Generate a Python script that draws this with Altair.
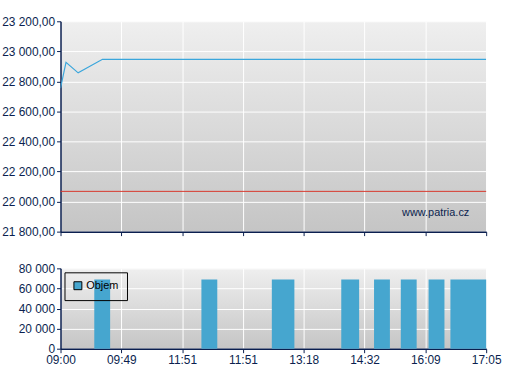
import altair as alt
import pandas as pd

# ---- data ----
tick_labels = ['09:00', '09:49', '11:51', '11:51', '13:18', '14:32', '16:09', '17:05']
tick_pos = [0, 1, 2, 3, 4, 5, 6, 7]

line_pos = [0.0, 0.09, 0.29, 0.69, 7.0]
line_val = [22755, 22927, 22857, 22947, 22947]

prev_close = [22068]

bar_start = [0.555, 2.317, 3.475, 4.617, 5.156, 5.596, 6.053, 6.412]
bar_end = [0.816, 2.578, 3.846, 4.911, 5.417, 5.857, 6.314, 7.0]
bar_vol = [69000, 69000, 69000, 69000, 69000, 69000, 69000, 69000]

price_ticks = [21800, 22000, 22200, 22400, 22600, 22800, 23000, 23200]
vol_ticks = [0, 20000, 40000, 60000, 80000]

NAVY = '#0b1f4f'
FONT = 'Liberation Sans'
W = 429

line_df = pd.DataFrame({'pos': line_pos, 'price': line_val})
rule_df = pd.DataFrame({'close': prev_close})
bar_df = pd.DataFrame({'start': bar_start, 'end': bar_end, 'vol': bar_vol,
                       'series': ['Objem'] * len(bar_vol)})

label_arr = '[' + ','.join("'%s'" % t for t in tick_labels) + ']'

xscale = alt.Scale(domain=[0, 7], nice=False, zero=False)
pscale = alt.Scale(domain=[21800, 23200], nice=False, zero=False)

def x_axis(labels):
    return alt.Axis(values=tick_pos, labels=labels, title=None, grid=True,
                    labelExpr=label_arr + '[datum.value]', labelFlush=False,
                    labelOverlap=False, labelBound=False, tickSize=4)

price_axis = alt.Axis(values=price_ticks, title=None, grid=True, tickSize=4,
                      labelExpr="replace(replace(format(datum.value, ',.2f'), ',', ' '), '.', ',')",
                      labelOverlap=False, labelFlush=False, labelBound=False,
                      minExtent=56, maxExtent=56)

line = alt.Chart(line_df).mark_line(color='#3aa6dc', strokeWidth=1.2, clip=True).encode(
    x=alt.X('pos:Q', scale=xscale, axis=x_axis(False)),
    y=alt.Y('price:Q', scale=pscale, axis=price_axis),
)
rule = alt.Chart(rule_df).mark_rule(color='#d8382c', strokeWidth=1).encode(
    y=alt.Y('close:Q', scale=pscale, axis=price_axis),
)
wm = alt.Chart(rule_df).mark_text(text='www.patria.cz', align='right', baseline='middle',
                                  font=FONT, fontSize=11, color=NAVY).encode(
    x=alt.value(412), y=alt.value(193)
)
top = alt.layer(line, rule, wm).properties(width=W, height=212)

vol_axis = alt.Axis(values=vol_ticks, title=None, grid=True, tickSize=4,
                    labelExpr="replace(format(datum.value, ','), ',', ' ')",
                    labelOverlap=False, labelFlush=False, labelBound=False,
                    minExtent=56, maxExtent=56)

bars = alt.Chart(bar_df).mark_rect().encode(
    x=alt.X('start:Q', scale=xscale, axis=x_axis(True)),
    x2='end:Q',
    y=alt.Y('vol:Q', scale=alt.Scale(domain=[0, 80000], nice=False), axis=vol_axis),
    y2=alt.datum(0),
    color=alt.Color('series:N', scale=alt.Scale(domain=['Objem'], range=['#46a6cf']),
                    legend=alt.Legend(orient='top-left', title=None, strokeColor='black',
                                      padding=8, offset=4,
                                      symbolType='square', symbolSize=64,
                                      symbolStrokeColor='black', symbolStrokeWidth=1,
                                      symbolOpacity=1, labelFont=FONT, labelFontSize=11,
                                      labelColor='black', labelOffset=3)),
).properties(width=W, height=81)

grad_expr = ("{gradient: 'linear', x1: 0, y1: 0, x2: 0, y2: 1, "
             "stops: [{offset: 0, color: '#efefef'}, {offset: 1, color: '#c5c5c5'}]}")

chart = alt.vconcat(top, bars, spacing=25).resolve_legend(color='independent').resolve_scale(
    color='independent'
).properties(
    padding={'left': 1, 'top': 14, 'right': 5, 'bottom': 5},
    background='white',
).configure_view(
    stroke=None,
    fill={'expr': grad_expr},
).configure_axis(
    domainColor=NAVY, domainWidth=1.5, tickColor=NAVY, tickWidth=1,
    gridColor='white', gridWidth=1, gridOpacity=1,
    labelFont=FONT, labelFontSize=12, labelColor=NAVY, labelPadding=2,
)

chart.save('out.html', embed_options={'renderer': 'svg', 'actions': False})
